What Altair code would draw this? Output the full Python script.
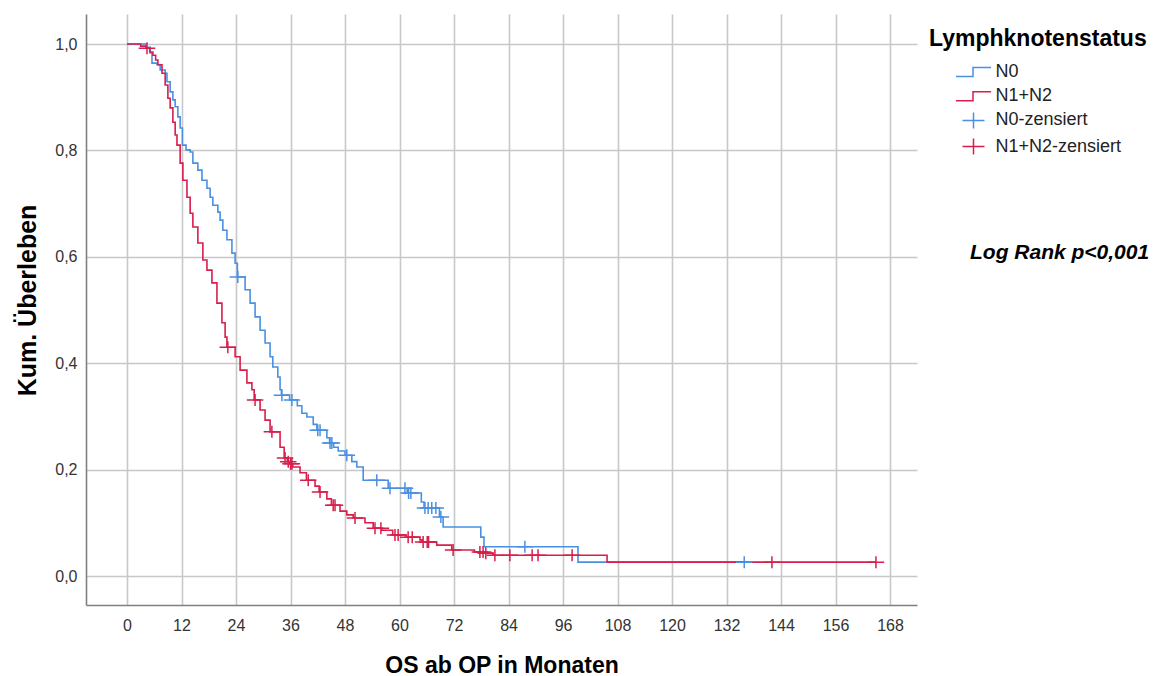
import altair as alt
import pandas as pd

BLUE = "#4A90E2"
RED = "#D81E4B"
FONT = "Liberation Sans"

SERIES = ["N0", "N1+N2", "N0-zensiert", "N1+N2-zensiert"]
LEGEND_TITLE = "Lymphknotenstatus"
X_TITLE = "OS ab OP in Monaten"
Y_TITLE = "Kum. Überleben"
NOTE = "Log Rank p<0,001"
X_TICKS = [0, 12, 24, 36, 48, 60, 72, 84, 96, 108, 120, 132, 144, 156, 168]
Y_TICKS = [0.0, 0.2, 0.4, 0.6, 0.8, 1.0]

# N0 curve: step times (months) and survival after each step
n0_t = [0, 4.2, 5.1, 5.5, 6.6, 7.3, 8.4, 8.8, 9.5, 10.1, 10.6, 11.2, 11.7, 12.2, 13.0,
        13.9, 14.5, 15.6, 16.5, 17.6, 18.3, 18.9, 20.0, 20.5, 21.1, 22.0, 23.1, 23.8,
        24.3, 26.0, 27.1, 28.2, 29.3, 30.4, 31.5, 32.1, 33.2, 33.7, 34.0, 35.8, 37.5,
        38.5, 39.6, 41.0, 41.8, 44.0, 44.6, 45.5, 46.5, 48.0, 49.5, 50.6, 52.0, 57.5,
        61.7, 64.8, 65.4, 68.8, 69.6, 77.9, 78.6, 99.3]
n0_s = [1.0, 0.994, 0.983, 0.964, 0.961, 0.951, 0.945, 0.929, 0.910, 0.895, 0.882, 0.863,
        0.842, 0.810, 0.801, 0.797, 0.776, 0.763, 0.744, 0.729, 0.712, 0.697, 0.684,
        0.669, 0.650, 0.632, 0.607, 0.588, 0.562, 0.538, 0.513, 0.487, 0.462, 0.438,
        0.412, 0.393, 0.374, 0.350, 0.340, 0.331, 0.320, 0.306, 0.299, 0.285, 0.274,
        0.260, 0.250, 0.242, 0.235, 0.227, 0.215, 0.205, 0.180, 0.165, 0.156, 0.139,
        0.128, 0.111, 0.092, 0.073, 0.055, 0.026]
n0_end = 135.9
n0_cens = [24.4, 34.1, 36.3, 42.0, 42.5, 44.7, 45.1, 48.4, 55.0, 57.9, 61.2, 62.0, 62.5,
           65.6, 66.3, 67.1, 68.0, 69.1, 87.6, 135.9]

# N1+N2 curve
n12_t = [0, 3.0, 4.2, 5.0, 5.7, 6.3, 6.8, 7.7, 8.4, 9.0, 9.5, 10.1, 10.6, 11.0, 11.7,
         12.3, 13.2, 13.9, 14.5, 15.6, 16.7, 17.6, 18.7, 19.8, 20.9, 21.6, 22.0, 23.8,
         24.9, 26.4, 27.5, 28.0, 29.3, 30.4, 31.5, 33.7, 34.6, 35.3, 35.9, 36.5, 38.1,
         39.5, 41.4, 42.3, 44.0, 45.0, 46.9, 48.4, 49.8, 52.4, 54.2, 56.1, 58.5, 61.5,
         64.5, 65.0, 68.2, 71.5, 76.5, 78.8, 80.5, 105.7]
n12_s = [1.0, 0.996, 0.992, 0.985, 0.979, 0.970, 0.961, 0.945, 0.923, 0.898, 0.880, 0.853,
         0.829, 0.810, 0.776, 0.744, 0.712, 0.682, 0.656, 0.626, 0.594, 0.575, 0.551,
         0.513, 0.476, 0.449, 0.430, 0.412, 0.387, 0.363, 0.350, 0.331, 0.312, 0.293,
         0.271, 0.242, 0.222, 0.215, 0.211, 0.205, 0.194, 0.180, 0.169, 0.158, 0.145,
         0.133, 0.122, 0.115, 0.109, 0.100, 0.090, 0.086, 0.077, 0.073, 0.068, 0.064,
         0.058, 0.049, 0.045, 0.043, 0.039, 0.026]
n12_end = 164.9
n12_cens = [4.4, 22.2, 28.2, 31.9, 34.8, 35.5, 36.0, 36.3, 39.9, 42.5, 45.4, 45.8, 50.2,
            54.6, 55.9, 59.0, 59.7, 61.9, 62.8, 65.2, 66.1, 66.4, 71.8, 77.7, 78.4, 79.0,
            81.0, 84.3, 89.2, 90.5, 98.0, 142.0, 164.9]


def value_at(ts, ss, t):
    v = ss[0]
    for ti, si in zip(ts, ss):
        if ti <= t:
            v = si
    return v


line_rows = []
for name, ts, ss, end in [("N0", n0_t, n0_s, n0_end), ("N1+N2", n12_t, n12_s, n12_end)]:
    for ti, si in zip(ts, ss):
        line_rows.append({"series": name, "t": ti, "s": si})
    line_rows.append({"series": name, "t": end, "s": ss[-1]})
lines_df = pd.DataFrame(line_rows)

cens_rows = []
for name, ts, ss, cs in [("N0-zensiert", n0_t, n0_s, n0_cens),
                         ("N1+N2-zensiert", n12_t, n12_s, n12_cens)]:
    for c in cs:
        cens_rows.append({"series": name, "t": c, "s": value_at(ts, ss, c)})
cens_df = pd.DataFrame(cens_rows)

STEP_PATH = "M-1.75,0.45H-0.05V-0.45H1.75"
PLUS_PATH = "M-1.1,0H1.1M0,-0.8V0.8"

color_scale = alt.Scale(domain=SERIES, range=[BLUE, RED, BLUE, RED])
shape_scale = alt.Scale(domain=SERIES, range=[STEP_PATH, STEP_PATH, PLUS_PATH, PLUS_PATH])

legend = alt.Legend(
    title=LEGEND_TITLE, orient="none", legendX=843, legendY=14,
    titleFont=FONT, titleFontSize=23, titleFontWeight="bold", titleColor="#000000",
    titlePadding=10, titleLimit=400, labelFont=FONT, labelFontSize=18,
    labelColor="#222222", labelLimit=300,
    symbolSize=400, symbolStrokeWidth=1.5, symbolOffset=33.5, labelOffset=11,
    rowPadding=4.2,
)

x_enc = alt.X(
    "t:Q",
    scale=alt.Scale(domain=[-9.03, 173.94], nice=False, zero=False),
    axis=alt.Axis(
        values=X_TICKS, grid=True, gridColor="#c8c8c8", gridWidth=1.6,
        ticks=False, tickSize=0, domainColor="#808080", domainWidth=1.6,
        labelFont=FONT, labelFontSize=16, labelColor="#333333", labelPadding=12,
        labelFlush=False, labelOverlap=False,
        title=X_TITLE, titleFont=FONT, titleFontSize=23, titleFontWeight="bold",
        titleColor="#000000", titleX=415.5, titleY=60, titleBaseline="middle",
        titleAlign="center",
    ),
)
y_enc = alt.Y(
    "s:Q",
    scale=alt.Scale(domain=[-0.0545, 1.0564], nice=False, zero=False),
    axis=alt.Axis(
        values=Y_TICKS, grid=True, gridColor="#c8c8c8", gridWidth=1.6,
        ticks=False, tickSize=0, domainColor="#808080", domainWidth=1.6,
        labelFont=FONT, labelFontSize=16, labelColor="#333333", labelPadding=9,
        labelExpr="replace(format(datum.value, '.1f'), '.', ',')",
        title=Y_TITLE, titleFont=FONT, titleFontSize=25, titleFontWeight="bold",
        titleColor="#000000", titleX=-59, titleY=286, titleAngle=270,
        titleBaseline="middle", titleAlign="center",
    ),
)

lines = alt.Chart(lines_df).mark_line(interpolate="step-after", strokeWidth=1.6).encode(
    x=x_enc, y=y_enc,
    color=alt.Color("series:N", scale=color_scale, legend=legend),
    detail="series:N",
)

marks = alt.Chart(cens_df).mark_point(filled=False, size=225, strokeWidth=1.5, opacity=1).encode(
    x="t:Q", y="s:Q",
    color=alt.Color("series:N", scale=color_scale, legend=legend),
    shape=alt.Shape("series:N", scale=shape_scale, legend=legend),
)

note = alt.Chart(pd.DataFrame({"txt": [NOTE]})).mark_text(
    align="left", baseline="middle", font=FONT, fontSize=21,
    fontWeight="bold", fontStyle="italic", color="#000000",
).encode(x=alt.value(884), y=alt.value(239), text="txt:N")

chart = alt.layer(lines, marks, note).properties(
    width=831, height=591,
    padding={"left": 86, "top": 14, "right": 242, "bottom": 71},
    autosize=alt.AutoSizeParams(type="none"),
).configure_view(stroke=None)

chart.save("out.html", embed_options={"renderer": "svg", "actions": False})
